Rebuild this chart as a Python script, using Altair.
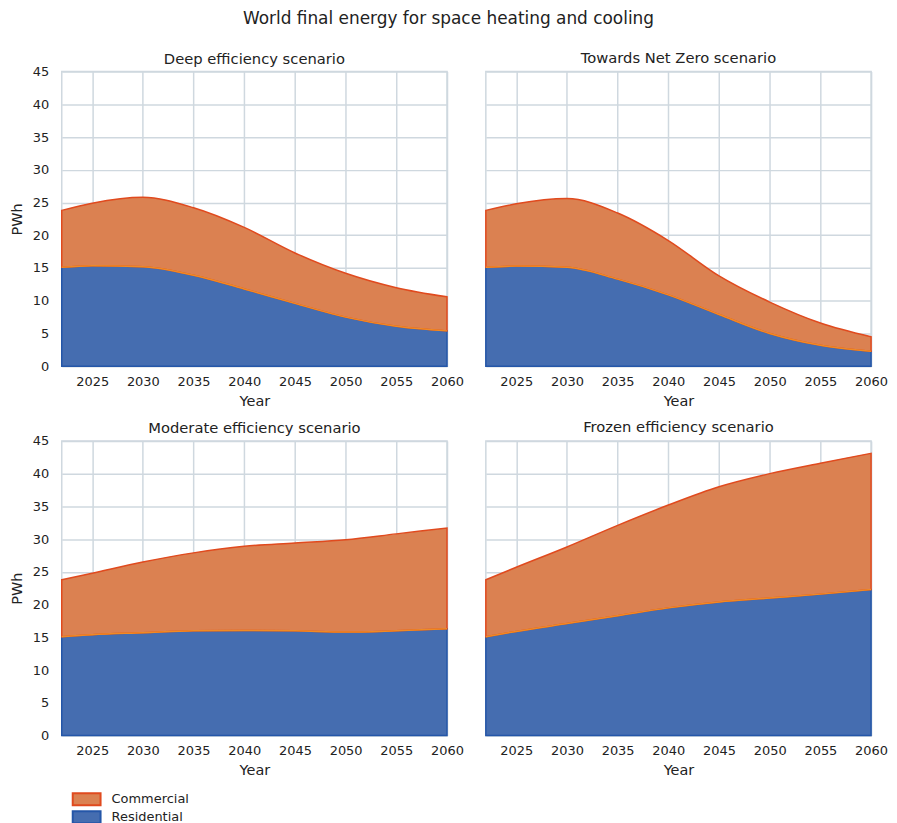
import altair as alt
import pandas as pd

years = [2022, 2025, 2030, 2035, 2040, 2045, 2050, 2055, 2060]
scenarios = [
    "Deep efficiency scenario",
    "Towards Net Zero scenario",
    "Moderate efficiency scenario",
    "Frozen efficiency scenario",
]
residential_deep = [15.1, 15.35, 15.2, 13.9, 11.8, 9.6, 7.5, 6.1, 5.4]
commercial_deep = [8.7, 9.55, 10.6, 10.3, 9.4, 7.7, 6.7, 5.9, 5.2]
residential_netzero = [15.1, 15.3, 15.1, 13.3, 10.9, 7.9, 5.0, 3.2, 2.3]
commercial_netzero = [8.7, 9.5, 10.5, 10.1, 8.3, 5.9, 4.8, 3.4, 2.2]
residential_moderate = [15.1, 15.4, 15.7, 16.0, 16.05, 16.0, 15.8, 16.0, 16.3]
commercial_moderate = [8.7, 9.4, 10.8, 11.9, 12.85, 13.4, 14.1, 14.8, 15.4]
residential_frozen = [15.1, 15.9, 17.1, 18.3, 19.5, 20.4, 21.0, 21.6, 22.3]
commercial_frozen = [8.7, 9.8, 11.7, 13.8, 15.7, 17.6, 19.0, 20.0, 20.8]

series = {
    scenarios[0]: (residential_deep, commercial_deep),
    scenarios[1]: (residential_netzero, commercial_netzero),
    scenarios[2]: (residential_moderate, commercial_moderate),
    scenarios[3]: (residential_frozen, commercial_frozen),
}

rows = []
for s in scenarios:
    res, com = series[s]
    for i, y in enumerate(years):
        rows.append(dict(scenario=s, year=y, sector="Residential", ord=0, value=res[i]))
        rows.append(dict(scenario=s, year=y, sector="Commercial", ord=1, value=com[i]))
df = pd.DataFrame(rows)

sectors = ["Commercial", "Residential"]
fill_colors = ["#DB8151", "#456DB0"]
stroke_colors = ["#E04A1E", "#2456A8"]
boundary_color = "#F08A24"
y_ticks = [0, 5, 10, 15, 20, 25, 30, 35, 40, 45]
x_ticks = [2025, 2030, 2035, 2040, 2045, 2050, 2055, 2060]

W, H = 387, 296


def panel(s, show_y):
    if show_y:
        yaxis = alt.Axis(values=y_ticks, title="PWh", labelPadding=13, titlePadding=8,
                         labelOverlap=False)
    else:
        yaxis = alt.Axis(values=y_ticks, labels=False, title=None)
    xaxis = alt.Axis(values=x_ticks, format="d", title="Year", labelFlush=False,
                     labelOverlap=False)
    xscale = alt.Scale(domain=[2022, 2060], nice=False, zero=False)
    yscale = alt.Scale(domain=[0, 45], nice=False)
    base = alt.Chart(df).transform_filter(alt.datum.scenario == s)
    areas = base.mark_area(interpolate="monotone", strokeWidth=1.5, opacity=1).encode(
        x=alt.X("year:Q", scale=xscale, axis=xaxis),
        y=alt.Y("value:Q", stack="zero", scale=yscale, axis=yaxis),
        fill=alt.Fill("sector:N", scale=alt.Scale(domain=sectors, range=fill_colors),
                      legend=alt.Legend(title=None)),
        stroke=alt.Stroke("sector:N", scale=alt.Scale(domain=sectors, range=stroke_colors),
                          legend=alt.Legend(title=None)),
        order=alt.Order("ord:Q"),
    )
    boundary = base.transform_filter(alt.datum.sector == "Residential").mark_line(
        interpolate="monotone", strokeWidth=1.5, color=boundary_color
    ).encode(
        x=alt.X("year:Q", scale=xscale, axis=xaxis),
        y=alt.Y("value:Q", scale=yscale, axis=yaxis),
    )
    return alt.layer(areas, boundary).properties(
        width=W, height=H,
        title=alt.TitleParams(s, offset=(-1 if show_y else 6)),
    )


top = alt.hconcat(panel(scenarios[0], True), panel(scenarios[1], False), spacing=17)
bottom = alt.hconcat(panel(scenarios[2], True), panel(scenarios[3], False), spacing=17)

chart = alt.vconcat(top, bottom, spacing=10).properties(
    title=alt.TitleParams("World final energy for space heating and cooling", fontSize=17,
                          font="DejaVu Sans", fontWeight="normal", anchor="middle", offset=22),
    padding={"left": 0, "top": 0, "right": 0, "bottom": 0},
).configure_view(stroke="#cfd8df", strokeWidth=1.5).configure_axis(
    gridColor="#cfd8df", gridWidth=1.5, domain=False, ticks=False,
    labelFont="DejaVu Sans", labelFontSize=13, labelColor="#222222",
    titleFont="DejaVu Sans", titleFontSize=14.5, titleFontWeight="normal", titleColor="#222222",
).configure_axisX(labelPadding=9, titlePadding=6).configure_title(
    font="DejaVu Sans", fontSize=14.8, fontWeight="normal", color="#222222"
).configure_legend(
    orient="none", legendX=18, legendY=724, direction="vertical",
    symbolType="M-2.33,-1L2.33,-1L2.33,1L-2.33,1Z", symbolSize=144, symbolStrokeWidth=2,
    labelFont="DejaVu Sans", labelFontSize=13, labelColor="#222222", rowPadding=-2,
    labelOffset=18, padding=0,
)

chart.save("out.html", embed_options={"renderer": "svg", "actions": False})
